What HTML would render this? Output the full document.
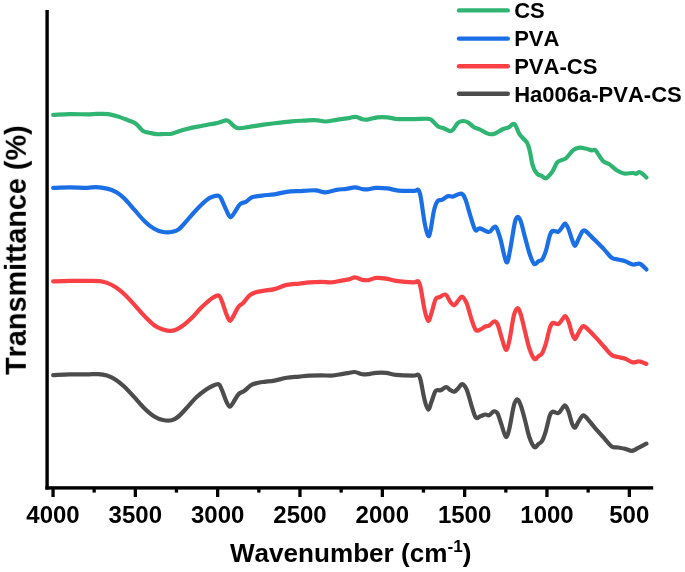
<!DOCTYPE html>
<html><head><meta charset="utf-8"><style>
html,body{margin:0;padding:0;background:#fff;}
body{width:685px;height:572px;overflow:hidden;}
svg{display:block;}
text{font-family:"Liberation Sans",sans-serif;font-weight:bold;fill:#000;font-kerning:none;}
.t{filter:url(#nf);}
.c path{fill:none;stroke-width:4.2;stroke-linecap:round;stroke-linejoin:round;}
</style></head><body>
<svg width="685" height="572" viewBox="0 0 685 572">
<defs><filter id="nf" x="0" y="0" width="685" height="572" filterUnits="userSpaceOnUse"><feOffset dx="0" dy="0"/></filter></defs>
<rect width="685" height="572" fill="#fff"/>
<rect x="45.4" y="10" width="3.4" height="479.6" fill="#000"/>
<rect x="45.4" y="486.2" width="607.8" height="3.4" fill="#000"/>
<rect x="51.4" y="488" width="3.3" height="9.0" fill="#000"/>
<rect x="133.7" y="488" width="3.3" height="9.0" fill="#000"/>
<rect x="216.0" y="488" width="3.3" height="9.0" fill="#000"/>
<rect x="298.3" y="488" width="3.3" height="9.0" fill="#000"/>
<rect x="380.7" y="488" width="3.3" height="9.0" fill="#000"/>
<rect x="463.0" y="488" width="3.3" height="9.0" fill="#000"/>
<rect x="545.3" y="488" width="3.3" height="9.0" fill="#000"/>
<rect x="627.7" y="488" width="3.3" height="9.0" fill="#000"/>
<rect x="92.5" y="488" width="3.3" height="4.6" fill="#000"/>
<rect x="174.8" y="488" width="3.3" height="4.6" fill="#000"/>
<rect x="257.2" y="488" width="3.3" height="4.6" fill="#000"/>
<rect x="339.5" y="488" width="3.3" height="4.6" fill="#000"/>
<rect x="421.8" y="488" width="3.3" height="4.6" fill="#000"/>
<rect x="504.2" y="488" width="3.3" height="4.6" fill="#000"/>
<rect x="586.5" y="488" width="3.3" height="4.6" fill="#000"/>
<g class="t"><text x="53.0" y="522.6" text-anchor="middle" font-size="24">4000</text>
<text x="135.3" y="522.6" text-anchor="middle" font-size="24">3500</text>
<text x="217.7" y="522.6" text-anchor="middle" font-size="24">3000</text>
<text x="300.0" y="522.6" text-anchor="middle" font-size="24">2500</text>
<text x="382.3" y="522.6" text-anchor="middle" font-size="24">2000</text>
<text x="464.6" y="522.6" text-anchor="middle" font-size="24">1500</text>
<text x="547.0" y="522.6" text-anchor="middle" font-size="24">1000</text>
<text x="629.3" y="522.6" text-anchor="middle" font-size="24">500</text>
</g>
<g class="c">
<path d="M53.2 114.9C56.0 114.8 64.1 114.2 69.8 114.1C75.5 114.0 82.7 114.4 87.2 114.4C91.8 114.4 93.6 114.0 97.1 113.9C100.6 113.9 105.0 113.7 108.3 114.1C111.6 114.5 113.9 115.3 117.0 116.3C120.1 117.2 123.8 118.6 126.9 119.8C130.0 121.0 132.9 121.6 135.6 123.5C138.3 125.4 140.7 129.5 143.0 131.0C145.3 132.5 146.9 132.2 149.2 132.7C151.5 133.2 154.2 134.0 156.7 134.2C159.2 134.4 161.6 134.1 164.1 134.0C166.6 133.9 169.1 134.2 171.6 133.7C174.1 133.2 176.1 132.1 179.0 131.2C181.9 130.3 185.2 129.4 188.9 128.5C192.6 127.6 197.8 126.7 201.3 126.0C204.8 125.3 207.2 124.8 209.9 124.3C212.6 123.8 214.9 123.6 217.4 123.0C219.9 122.4 223.0 120.9 224.8 120.6C226.7 120.3 226.4 119.8 228.5 121.0C230.6 122.2 233.7 127.0 237.2 128.0C240.7 129.0 245.5 127.3 249.6 126.8C253.7 126.3 257.4 125.4 262.0 124.8C266.6 124.2 271.9 123.6 276.9 123.0C281.9 122.4 287.2 121.7 291.8 121.3C296.4 120.9 300.3 120.8 304.2 120.6C308.1 120.4 311.9 119.9 315.4 120.1C318.9 120.2 321.8 121.5 325.3 121.5C328.8 121.5 332.6 120.4 336.5 119.8C340.4 119.2 345.7 118.6 348.9 118.1C352.1 117.6 353.6 116.6 355.8 116.8C358.1 117.0 360.5 118.8 362.4 119.3C364.3 119.8 364.9 119.9 367.4 119.6C369.9 119.3 374.0 117.7 377.3 117.3C380.6 116.9 383.8 117.0 387.3 117.3C390.8 117.6 393.8 118.8 398.4 119.1C402.9 119.4 409.6 119.1 414.6 119.1C419.6 119.0 425.3 118.6 428.2 118.8C431.1 119.0 430.2 119.0 431.9 120.3C433.5 121.6 436.2 125.2 438.1 126.5C440.0 127.8 441.2 127.2 443.1 128.0C445.1 128.8 448.2 130.9 449.8 131.2C451.4 131.5 451.6 131.1 453.0 129.7C454.4 128.3 456.4 124.2 458.0 122.8C459.6 121.3 461.2 121.1 462.9 121.0C464.5 120.9 466.0 121.2 467.9 122.3C469.8 123.3 472.2 126.2 474.1 127.3C476.0 128.4 476.6 128.1 479.1 129.2C481.6 130.3 486.3 133.3 489.0 134.0C491.7 134.7 492.9 134.3 495.2 133.5C497.5 132.7 500.3 130.2 502.6 129.2C504.9 128.2 506.8 128.2 508.8 127.3C510.8 126.5 512.5 122.8 514.4 124.1C516.2 125.3 517.8 131.8 519.9 134.8C522.0 137.8 525.1 139.6 526.8 142.3C528.4 145.0 528.8 147.0 529.8 150.9C530.8 154.8 531.5 162.0 532.8 165.8C534.0 169.7 535.8 172.3 537.3 174.0C538.8 175.7 540.3 175.1 541.7 175.8C543.1 176.5 544.2 178.8 545.9 178.2C547.6 177.6 550.1 174.7 552.1 172.0C554.1 169.3 555.3 164.4 557.6 162.1C559.9 159.8 563.2 160.4 565.8 158.4C568.4 156.4 570.9 152.0 573.2 150.2C575.5 148.4 577.3 148.0 579.4 147.7C581.5 147.4 583.5 148.1 585.6 148.5C587.7 148.9 590.1 150.1 591.8 150.4C593.5 150.7 593.7 148.7 595.6 150.4C597.5 152.2 600.7 158.6 603.0 160.9C605.3 163.2 606.9 162.5 609.2 164.1C611.5 165.7 614.2 168.7 616.7 170.3C619.2 171.9 621.4 173.1 624.1 173.5C626.8 173.9 630.7 172.9 632.8 173.0C634.9 173.1 635.5 174.0 636.5 173.8C637.5 173.6 638.0 172.0 639.0 172.0C640.0 172.0 641.5 173.1 642.7 174.0C643.9 174.9 645.8 176.9 646.4 177.5" stroke="#2fb571"/>
<path d="M53.2 187.9C56.0 187.8 64.1 187.4 69.8 187.4C75.5 187.4 82.8 188.0 87.2 187.9C91.6 187.8 92.6 187.0 95.9 187.1C99.2 187.2 103.7 187.8 107.0 188.6C110.3 189.4 112.8 190.2 115.7 191.8C118.6 193.5 121.3 195.5 124.4 198.5C127.5 201.5 131.0 206.0 134.3 209.7C137.6 213.4 141.0 217.7 144.3 220.9C147.6 224.1 151.1 227.0 154.2 228.8C157.3 230.7 160.0 231.5 162.9 232.0C165.8 232.5 168.9 232.5 171.6 232.0C174.3 231.5 176.3 231.2 179.0 229.1C181.7 227.0 184.6 223.0 187.7 219.6C190.8 216.2 194.5 211.7 197.6 208.5C200.7 205.3 203.7 202.2 206.2 200.3C208.7 198.4 210.3 197.6 212.4 196.8C214.5 196.1 217.2 195.5 218.6 195.8C220.0 196.1 219.8 196.2 221.1 198.5C222.3 200.8 224.6 206.6 226.1 209.7C227.6 212.8 228.9 216.7 230.3 217.1C231.7 217.5 233.0 214.4 234.7 212.2C236.3 210.0 238.3 205.7 240.2 204.0C242.1 202.3 243.9 202.9 245.9 201.8C247.9 200.7 249.4 198.3 252.1 197.3C254.8 196.3 258.3 196.1 262.0 195.6C265.7 195.1 270.3 194.9 274.4 194.3C278.5 193.7 282.6 192.3 286.8 191.8C291.0 191.3 294.5 191.3 299.3 191.1C304.1 190.8 311.1 190.1 315.4 190.3C319.7 190.5 321.8 192.4 325.3 192.3C328.8 192.2 333.0 190.5 336.5 189.9C340.0 189.3 343.3 189.3 346.4 188.9C349.5 188.5 352.4 187.4 355.1 187.4C357.8 187.4 360.3 188.8 362.4 189.1C364.4 189.4 365.1 189.6 367.4 189.4C369.7 189.2 372.8 188.1 376.1 187.9C379.4 187.7 383.6 188.0 387.3 188.4C391.0 188.8 393.8 190.2 398.4 190.6C402.9 191.0 411.3 190.9 414.6 190.8C417.9 190.7 417.3 188.8 418.3 189.9C419.3 191.0 419.8 191.9 420.8 197.3C421.8 202.7 423.3 215.7 424.5 222.1C425.7 228.5 427.2 234.6 428.2 235.8C429.2 237.1 429.8 233.8 430.7 229.6C431.6 225.4 432.8 215.7 433.9 210.9C435.0 206.1 436.3 202.8 437.6 201.0C438.9 199.2 440.1 200.6 441.8 199.8C443.6 199.0 446.2 196.6 448.1 196.1C450.0 195.6 450.8 197.0 453.0 196.6C455.2 196.2 459.1 193.1 461.2 193.6C463.3 194.1 463.9 195.6 465.4 199.3C466.9 203.0 468.8 210.8 470.4 215.9C472.0 221.0 473.7 227.9 475.3 230.0C476.9 232.1 477.5 228.0 479.8 228.3C482.1 228.6 486.7 232.1 489.0 232.0C491.3 231.9 492.3 228.3 493.5 227.6C494.7 226.9 495.3 225.8 496.4 227.6C497.5 229.4 498.5 232.5 500.2 238.2C501.9 243.9 504.7 259.9 506.3 262.0C507.9 264.1 508.6 257.1 510.0 250.5C511.4 243.9 513.6 227.9 514.9 222.3C516.2 216.7 516.9 216.8 517.9 216.8C518.9 216.8 519.9 218.7 521.1 222.3C522.3 225.9 523.8 233.0 525.3 238.4C526.8 243.8 528.3 250.2 529.8 254.5C531.3 258.8 532.8 262.9 534.3 264.0C535.8 265.1 537.2 261.9 538.5 261.2C539.8 260.4 541.0 261.2 542.2 259.5C543.4 257.8 544.6 254.7 545.9 250.8C547.1 246.9 548.6 239.2 549.7 235.9C550.8 232.6 551.2 231.7 552.6 231.0C554.0 230.3 556.7 232.3 558.3 231.7C559.9 231.1 561.0 228.6 562.1 227.2C563.2 225.8 564.0 223.3 565.0 223.5C566.0 223.7 567.1 225.8 568.3 228.5C569.5 231.2 570.9 236.7 572.0 239.6C573.1 242.5 574.0 245.8 575.0 245.8C576.0 245.8 577.0 242.0 578.2 239.6C579.4 237.2 581.2 232.8 582.4 231.4C583.6 230.0 583.6 229.6 585.6 231.0C587.6 232.4 591.2 236.5 594.3 239.6C597.4 242.7 601.4 246.6 604.3 249.6C607.2 252.6 609.4 256.2 611.7 257.8C614.0 259.4 615.6 258.9 617.9 259.5C620.2 260.1 622.8 260.4 625.3 261.2C627.8 262.0 630.5 264.1 632.8 264.5C635.1 264.9 637.4 263.5 639.0 263.7C640.6 263.9 641.5 264.8 642.7 265.7C643.9 266.6 645.8 268.8 646.4 269.4" stroke="#1a6fe6"/>
<path d="M53.2 281.4C56.0 281.3 64.1 281.0 69.8 280.9C75.5 280.8 82.2 280.9 87.2 280.9C92.2 280.9 96.3 280.8 99.6 281.1C102.9 281.4 104.3 281.9 107.0 282.9C109.7 283.9 112.8 285.4 115.7 287.3C118.6 289.2 121.3 291.4 124.4 294.3C127.5 297.2 131.0 301.1 134.3 304.7C137.6 308.3 141.0 312.5 144.3 315.9C147.6 319.3 151.1 323.0 154.2 325.3C157.3 327.6 160.4 328.6 162.9 329.5C165.4 330.4 167.0 330.7 169.1 330.8C171.2 330.9 173.0 330.8 175.3 330.0C177.6 329.2 180.0 327.8 182.7 325.8C185.4 323.9 188.5 321.1 191.4 318.3C194.3 315.5 197.6 311.4 200.1 308.8C202.6 306.2 204.1 304.8 206.2 303.0C208.2 301.2 210.3 299.2 212.4 298.0C214.5 296.8 217.0 295.0 218.6 295.5C220.2 296.0 220.6 298.0 221.8 301.0C223.1 304.0 224.8 310.1 226.1 313.4C227.4 316.7 228.6 320.4 229.8 320.8C231.0 321.2 232.1 318.2 233.5 315.9C234.9 313.5 236.8 308.9 238.5 306.7C240.2 304.5 241.6 304.6 243.4 302.7C245.2 300.8 247.5 297.0 249.6 295.3C251.7 293.6 253.3 293.1 255.8 292.3C258.3 291.5 261.4 291.1 264.5 290.6C267.6 290.1 270.7 290.1 274.4 289.1C278.1 288.2 282.6 285.8 286.8 284.9C291.0 284.0 295.6 284.0 299.3 283.6C303.0 283.2 305.5 282.7 309.2 282.4C312.9 282.1 317.9 281.9 321.6 281.9C325.3 281.9 328.2 282.6 331.5 282.4C334.8 282.2 338.5 281.1 341.4 280.6C344.3 280.1 346.6 279.9 348.9 279.4C351.2 278.9 352.9 277.3 355.1 277.4C357.4 277.5 360.1 279.4 362.4 279.9C364.6 280.3 366.3 280.4 368.6 280.1C370.9 279.8 373.2 278.1 376.1 277.9C379.0 277.6 382.7 278.1 386.0 278.6C389.3 279.1 391.3 280.2 395.9 280.8C400.4 281.4 409.6 282.2 413.3 282.3C417.0 282.4 417.1 280.3 418.3 281.3C419.6 282.3 419.8 283.8 420.8 288.5C421.8 293.2 423.3 304.2 424.5 309.6C425.7 315.0 427.1 320.2 428.2 320.8C429.3 321.4 430.2 316.9 431.4 313.3C432.6 309.7 434.3 301.9 435.6 299.2C436.9 296.5 437.7 297.9 439.4 297.2C441.1 296.4 443.8 293.9 445.6 294.7C447.5 295.5 449.1 300.4 450.5 302.2C451.9 303.9 453.1 305.4 454.3 305.2C455.6 305.0 456.7 302.3 458.0 300.9C459.3 299.5 460.8 296.3 462.2 296.7C463.6 297.1 465.1 299.6 466.7 303.4C468.3 307.2 470.1 315.2 471.6 319.6C473.1 324.0 474.4 328.4 475.8 330.0C477.2 331.6 478.7 330.1 480.3 329.5C481.9 328.9 483.9 327.1 485.3 326.5C486.8 325.9 487.6 326.6 489.0 325.8C490.4 325.0 492.6 321.7 494.0 321.5C495.4 321.3 496.5 321.9 497.7 324.5C498.9 327.1 500.0 332.7 501.4 336.9C502.8 341.1 504.6 349.2 505.9 349.8C507.2 350.4 508.1 346.2 509.4 340.5C510.7 334.8 512.4 321.2 513.8 315.8C515.1 310.4 516.3 308.4 517.5 308.2C518.7 308.0 519.6 310.7 520.8 314.5C522.0 318.3 523.5 325.3 524.9 330.9C526.3 336.5 527.7 343.6 529.3 348.3C530.9 353.0 532.8 357.6 534.3 358.9C535.8 360.2 537.2 357.1 538.5 356.2C539.8 355.2 541.0 355.3 542.2 353.2C543.4 351.1 544.6 347.4 545.9 343.3C547.1 339.2 548.6 331.8 549.7 328.4C550.8 325.0 551.2 323.7 552.6 323.0C554.0 322.3 556.7 324.6 558.3 324.0C559.9 323.4 561.0 321.0 562.1 319.7C563.2 318.4 564.0 315.8 565.0 316.0C566.0 316.2 567.1 318.1 568.3 321.0C569.5 323.9 570.9 330.4 572.0 333.4C573.1 336.4 574.0 339.1 575.0 339.1C576.0 339.1 577.0 335.5 578.2 333.4C579.4 331.3 581.2 327.7 582.4 326.7C583.6 325.7 583.6 325.7 585.6 327.2C587.6 328.7 591.2 332.6 594.3 335.9C597.4 339.2 601.4 343.8 604.3 347.0C607.2 350.2 609.4 353.3 611.7 355.0C614.0 356.7 615.6 356.4 617.9 357.0C620.2 357.6 622.8 357.8 625.3 358.7C627.8 359.6 630.5 361.9 632.8 362.4C635.1 362.8 636.7 361.1 639.0 361.4C641.3 361.6 645.2 363.5 646.4 363.9" stroke="#f84045"/>
<path d="M53.2 375.1C56.0 375.0 64.1 374.5 69.8 374.4C75.5 374.3 82.5 374.4 87.2 374.4C92.0 374.3 95.0 373.9 98.3 374.1C101.6 374.3 104.1 374.7 107.0 375.6C109.9 376.6 112.8 377.9 115.7 379.8C118.6 381.7 121.3 383.9 124.4 386.8C127.5 389.7 131.0 393.6 134.3 397.2C137.6 400.8 141.0 405.1 144.3 408.3C147.6 411.5 151.1 414.6 154.2 416.5C157.3 418.4 160.0 419.4 162.9 420.0C165.8 420.6 169.1 420.8 171.6 420.3C174.1 419.8 175.3 419.0 177.8 417.0C180.3 415.0 183.3 411.6 186.4 408.3C189.5 405.0 193.1 400.3 196.4 397.2C199.7 394.1 203.5 391.4 206.2 389.5C208.9 387.6 210.3 386.9 212.4 386.0C214.5 385.1 217.0 383.7 218.6 384.3C220.2 384.9 220.6 386.9 221.8 389.7C223.1 392.5 224.8 398.1 226.1 400.9C227.4 403.7 228.6 406.4 229.8 406.6C231.0 406.8 232.1 404.2 233.5 402.1C234.9 400.0 236.7 396.1 238.5 394.2C240.3 392.3 242.1 392.5 244.2 391.0C246.3 389.5 248.8 386.6 250.9 385.3C253.1 384.0 254.8 383.6 257.1 383.0C259.4 382.4 261.6 382.2 264.5 381.8C267.4 381.4 270.7 381.3 274.4 380.6C278.1 379.9 282.6 378.5 286.8 377.8C291.0 377.1 295.6 377.0 299.3 376.6C303.0 376.2 305.5 375.8 309.2 375.6C312.9 375.4 317.9 375.3 321.6 375.3C325.3 375.3 328.2 375.8 331.5 375.6C334.8 375.4 338.5 374.6 341.4 374.1C344.3 373.7 346.7 373.2 348.9 372.9C351.1 372.5 352.6 371.8 354.8 372.0C357.1 372.2 360.1 373.9 362.4 374.3C364.7 374.7 366.3 374.4 368.6 374.1C370.9 373.9 373.2 373.0 376.1 372.8C379.0 372.6 382.7 372.5 386.0 372.8C389.3 373.1 391.3 374.3 395.9 374.8C400.4 375.3 409.6 375.6 413.3 375.6C417.0 375.6 417.1 373.9 418.3 374.8C419.6 375.7 419.8 376.9 420.8 381.0C421.8 385.1 423.3 394.8 424.5 399.6C425.7 404.4 427.1 409.2 428.2 409.6C429.3 410.0 430.2 405.2 431.4 402.1C432.6 399.0 434.1 392.9 435.6 390.9C437.1 388.9 438.9 390.8 440.6 390.2C442.4 389.6 444.5 387.2 446.1 387.2C447.8 387.2 449.1 389.4 450.5 390.2C451.9 390.9 453.1 392.0 454.3 391.7C455.6 391.4 456.7 389.8 458.0 388.5C459.3 387.2 460.8 384.0 462.2 384.2C463.6 384.4 465.1 386.1 466.7 389.7C468.3 393.3 470.1 401.2 471.6 405.8C473.1 410.4 474.4 415.8 475.8 417.5C477.2 419.2 478.7 416.8 480.3 416.3C481.9 415.8 483.9 414.7 485.3 414.5C486.8 414.3 487.6 415.8 489.0 415.3C490.4 414.8 492.6 411.6 494.0 411.3C495.4 411.1 496.5 411.6 497.7 413.8C498.9 416.0 500.0 420.5 501.4 424.4C502.8 428.2 504.6 436.2 505.9 436.9C507.2 437.6 508.1 433.7 509.4 428.5C510.7 423.3 512.5 410.7 513.8 405.8C515.1 400.9 516.1 399.5 517.2 399.4C518.4 399.3 519.4 401.9 520.7 405.3C522.0 408.7 523.5 414.4 524.9 419.7C526.3 425.0 527.7 432.4 529.3 437.0C530.9 441.6 532.8 445.8 534.3 447.0C535.8 448.2 537.2 445.0 538.5 444.0C539.8 443.0 541.0 443.0 542.2 440.8C543.4 438.6 544.6 435.0 545.9 430.8C547.1 426.6 548.6 419.1 549.7 415.9C550.8 412.7 551.2 412.2 552.6 411.7C554.0 411.2 556.7 413.5 558.3 413.0C559.9 412.5 561.0 409.8 562.1 408.5C563.2 407.2 564.0 405.1 565.0 405.5C566.0 405.9 567.1 408.0 568.3 411.0C569.5 414.0 570.9 420.6 572.0 423.4C573.1 426.2 574.0 427.8 575.0 427.6C576.0 427.4 577.0 424.1 578.2 422.1C579.4 420.2 581.2 416.8 582.4 415.9C583.6 415.0 583.6 414.8 585.6 416.7C587.6 418.6 591.2 423.5 594.3 427.1C597.4 430.7 601.4 435.1 604.3 438.3C607.2 441.5 609.4 445.0 611.7 446.5C614.0 448.0 615.6 447.1 617.9 447.5C620.2 447.9 622.9 448.3 625.3 448.9C627.6 449.5 629.9 451.0 632.0 450.9C634.1 450.8 635.4 449.4 637.8 448.2C640.2 447.0 645.0 444.4 646.4 443.7" stroke="#4c4c4c"/>
</g>
<g class="t"><line x1="459" y1="10.4" x2="507.8" y2="10.4" stroke="#2fb571" stroke-width="4.4" stroke-linecap="round"/>
<text x="514.2" y="18.0" font-size="22">CS</text>
<line x1="459" y1="38.6" x2="507.8" y2="38.6" stroke="#1a6fe6" stroke-width="4.4" stroke-linecap="round"/>
<text x="514.2" y="45.9" font-size="22">PVA</text>
<line x1="459" y1="66.3" x2="507.8" y2="66.3" stroke="#f84045" stroke-width="4.4" stroke-linecap="round"/>
<text x="514.2" y="73.8" font-size="22">PVA-CS</text>
<line x1="459" y1="93.8" x2="507.8" y2="93.8" stroke="#4c4c4c" stroke-width="4.4" stroke-linecap="round"/>
<text x="514.2" y="101.7" font-size="22">Ha006a-PVA-CS</text>

<text transform="translate(25.8,374.9) rotate(-90)" font-size="28.8">Transmittance (%)</text>
<text x="229.9" y="562.3" font-size="26.1">Wavenumber (cm<tspan dy="-10.3" font-size="17.2">-1</tspan><tspan dy="10.3">)</tspan></text></g>
</svg>
</body></html>
